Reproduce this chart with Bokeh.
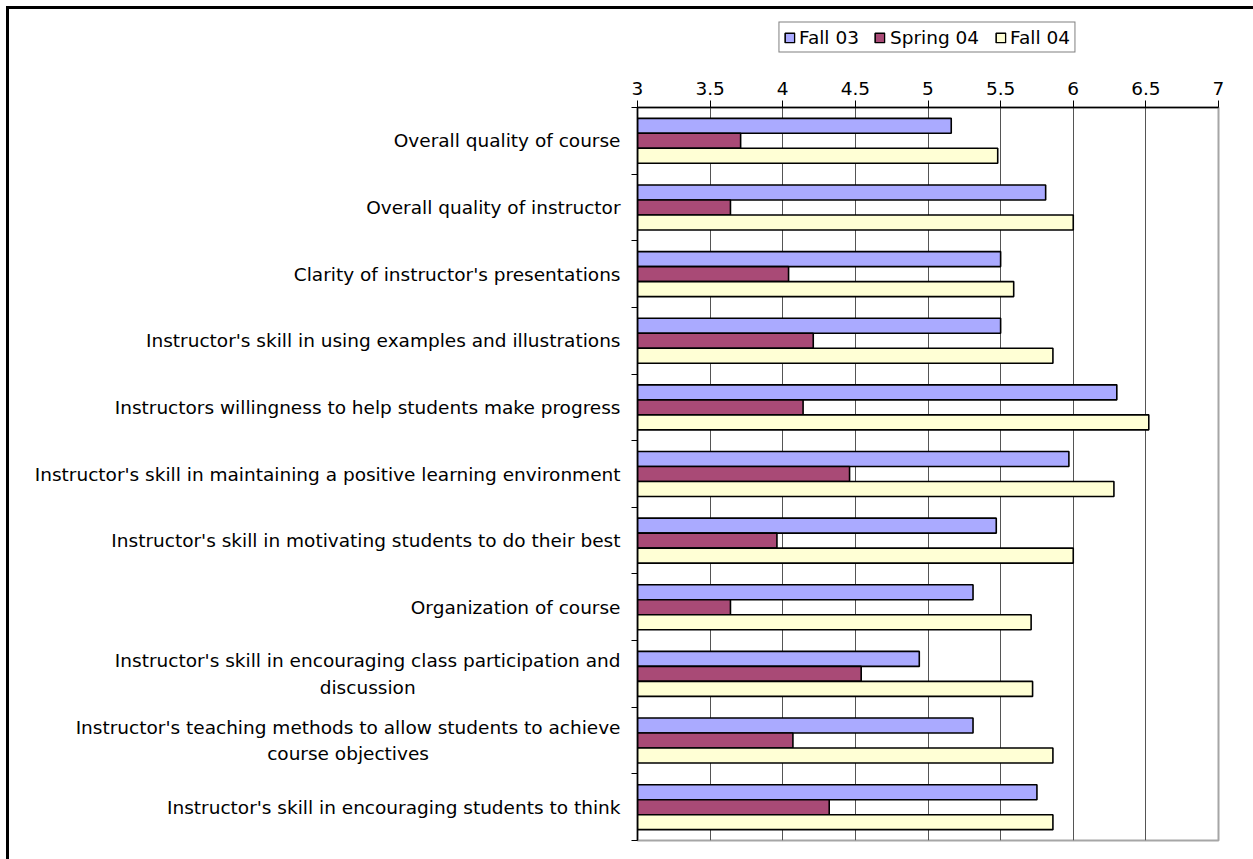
from bokeh.plotting import figure
from bokeh.layouts import column, row
from bokeh.core.properties import value
from bokeh.models import (FixedTicker, Legend, LegendItem, Range1d, ColumnDataSource)
from bokeh.embed import file_html
from bokeh.resources import INLINE

# Survey items, listed top to bottom
categories = [
    "Overall quality of course",
    "Overall quality of instructor",
    "Clarity of instructor's presentations",
    "Instructor's skill in using examples and illustrations",
    "Instructors willingness to help students make progress",
    "Instructor's skill in maintaining a positive learning environment",
    "Instructor's skill in motivating students to do their best",
    "Organization of course",
    "Instructor's skill in encouraging class participation and\ndiscussion",
    "Instructor's teaching methods to allow students to achieve\ncourse objectives",
    "Instructor's skill in encouraging students to think",
]

series_names = ["Fall 03", "Spring 04", "Fall 04"]
fall03 = [5.16, 5.81, 5.50, 5.50, 6.30, 5.97, 5.47, 5.31, 4.94, 5.31, 5.75]
spring04 = [3.71, 3.64, 4.04, 4.21, 4.14, 4.46, 3.96, 3.64, 4.54, 4.07, 4.32]
fall04 = [5.48, 6.00, 5.59, 5.86, 6.52, 6.28, 6.00, 5.71, 5.72, 5.86, 5.86]

x_ticks = [3, 3.5, 4, 4.5, 5, 5.5, 6, 6.5, 7]
x_tick_labels = ["3", "3.5", "4", "4.5", "5", "5.5", "6", "6.5", "7"]

FONT = "DejaVu Sans"
FS = "18.5px"
colors = ["#AAAAFF", "#A94A76", "#FFFFD5"]
bar_h = 0.225
offsets = [-bar_h, 0.0, bar_h]

n = len(categories)
centers = [i + 0.5 for i in range(n)]
y_range = Range1d(n, 0)

TOP, BOTTOM = 42, 19
ROW_H = 794

# ---- main bar chart ------------------------------------------------------
p = figure(
    width=630, height=ROW_H,
    x_range=Range1d(3, 7), y_range=y_range,
    x_axis_location="above",
    output_backend="svg", toolbar_location=None,
    min_border_left=14, min_border_right=35,
    min_border_top=TOP, min_border_bottom=BOTTOM,
)
p.background_fill_color = "white"
p.border_fill_color = "white"
p.outline_line_color = "#A6A6A6"
p.outline_line_width = 2

for name, vals, col, off in zip(series_names, [fall03, spring04, fall04], colors, offsets):
    src = ColumnDataSource(dict(y=[c + off for c in centers], right=vals))
    p.hbar(y="y", left=3, right="right", height=bar_h, source=src,
           fill_color=col, line_color="black", line_width=1.6)

xa = p.xaxis[0]
xa.ticker = FixedTicker(ticks=x_ticks)
xa.major_label_overrides = {t: l for t, l in zip(x_ticks, x_tick_labels)}
xa.major_tick_out = 7
xa.major_tick_in = 0
xa.minor_tick_out = 0
xa.minor_tick_in = 0
xa.axis_line_color = "black"
xa.axis_line_width = 1.5
xa.major_tick_line_color = "black"
xa.major_label_text_font = FONT
xa.major_label_text_font_size = FS
xa.major_label_text_color = "black"
xa.major_label_standoff = 6

# category axis: only separator ticks between groups
ya = p.yaxis[0]
ya.ticker = FixedTicker(ticks=[], minor_ticks=list(range(n + 1)))
ya.major_tick_out = 0
ya.major_tick_in = 0
ya.minor_tick_out = 6
ya.minor_tick_in = 0
ya.minor_tick_line_color = "black"
ya.axis_line_color = "black"
ya.axis_line_width = 1.5
ya.major_label_standoff = 0

p.xgrid.ticker = FixedTicker(ticks=x_ticks[1:-1])
p.xgrid.grid_line_color = "#555555"
p.xgrid.grid_line_width = 1
p.ygrid.grid_line_color = None

# ---- category labels, right-anchored, wrapped lines centred ---------------
lab = figure(
    width=614, height=ROW_H,
    x_range=Range1d(0, 1), y_range=y_range,
    x_axis_type=None, y_axis_type=None,
    output_backend="svg", toolbar_location=None,
    min_border_left=0, min_border_right=0,
    min_border_top=TOP, min_border_bottom=BOTTOM,
)
lab.outline_line_color = None
lab.grid.grid_line_color = None
lab.text(x=[1] * n, y=centers, text=categories, x_offset=-3,
         anchor="center_right", text_align="center", text_baseline="middle",
         text_font=value(FONT), text_font_size=value(FS), text_color="black",
         text_line_height=1.25)

# ---- legend strip ---------------------------------------------------------
leg = figure(
    width=1244, height=56,
    x_range=Range1d(0, 1), y_range=Range1d(0, 1),
    x_axis_type=None, y_axis_type=None,
    output_backend="svg", toolbar_location=None,
    min_border_left=591, min_border_right=0,
    min_border_top=0, min_border_bottom=0,
)
leg.outline_line_color = None
leg.grid.grid_line_color = None
items = []
for name, vals, col in zip(series_names, [fall03, spring04, fall04], colors):
    # key swatches: one bar per series kept outside the strip's visible range
    r = leg.hbar(y=[-5], left=[3], right=[vals[0]], height=bar_h,
                 fill_color=col, line_color="black", line_width=1.6)
    items.append(LegendItem(label=name, renderers=[r]))
legend = Legend(
    items=items, orientation="horizontal", location="center",
    label_text_font=FONT, label_text_font_size=FS, label_text_color="black",
    glyph_width=12, glyph_height=12, label_standoff=4, spacing=15,
    padding=4, margin=0,
    border_line_color="black", border_line_width=1,
    background_fill_color="white",
)
leg.add_layout(legend)

layout = column(leg, row(lab, p))
layout.styles = {
    "margin-left": "6px", "margin-top": "6px",
    "border-left": "3px solid black", "border-top": "3px solid black",
}

open("out.html", "w").write(file_html(layout, INLINE))
